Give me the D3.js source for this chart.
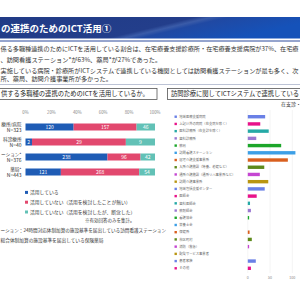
<!DOCTYPE html>
<html>
<head>
<meta charset="utf-8">
<script src="https://cdn.jsdelivr.net/npm/d3@7"></script>
<style>
  html, body { margin: 0; padding: 0; background: #fff; }
  svg { display: block; font-family: "Noto Sans CJK JP", "Noto Sans", sans-serif; }
</style>
</head>
<body>
<div id="chart"></div>
<script>
// Left chart: ICT use by facility type (counts)
const leftCategories = ["療所/病院", "科診療所", "ーション*", "薬局*"];
const leftN = [323, 40, 376, 443];
const usingICT = [120, 2, 238, 121];
const notConsidered = [157, 29, 96, 268];
const gaveUp = [46, 9, 42, 54];
const seriesNames = ["活用している", "活用していない（活用を検討したことが無い）", "活用していない（活用を検討したが、断念した）"];
const seriesColors = ["#1f5cb5", "#e2486e", "#62c1b6"];
const leftTicks = [0, 0.2, 0.4, 0.6, 0.8, 1];

// Right chart: partners linked by ICT (在支診・在支病)
const partnerLabels = [
  "地域医療支援病院", "上記以外の病院（在支病を除く）", "医科診療所（在支診を除く）", "歯科診療所", "薬局",
  "訪問看護ステーション", "居宅介護支援事業所", "入所介護施設（特養、老健など）", "通所介護施設（通所リハ事業所など）",
  "訪問介護事業所", "地域包括支援センター", "医師会", "歯科医師会", "薬剤師会", "看護協会", "栄養士会",
  "保健所", "市区町村", "消防（救急）", "配食サービス事業者", "患者家族", "その他"
];
const partnerValues = [39, 28, 47, 19, 75, 107, 90, 37, 27, 46, 38, 20, 5, 7, 3, 0, 4, 9, 3, 0, 18, 7];
const partnerColors = ["#6a80e6", "#e8128a", "#25a9a6", "#9b78d2", "#1ca62a", "#3d9fe6", "#d95f1e", "#5d8a1c", "#c546d2", "#b99510"];
const rightTicks = [0, 50, 100];

const textLines = [
  { y: 51, t: "係る多職種連携のためにICTを活用している割合は、在宅療養支援診療所・在宅療養支援病院が37%、在宅療", fit: 298 },
  { y: 62, t: "、訪問看護ステーション*が63%、薬局*が27%であった。" },
  { y: 72.5, t: "実施している病院・診療所がICTシステムで連携している機関としては訪問看護ステーションが最も多く、次", fit: 298 },
  { y: 81, t: "所、薬局、訪問介護事業所が多かった。" }
];

const W = 300, H = 300;
const svg = d3.select("#chart").append("svg").attr("width", W).attr("height", H);

// Title bar
const defs = svg.append("defs");
const grad = defs.append("linearGradient").attr("id", "tg").attr("x1", "0").attr("x2", "1").attr("y1", "0").attr("y2", "0.3");
[[0, "#213b86"], [0.6, "#233e8b"], [0.65, "#3a5ba8"], [0.7, "#2049a3"], [1, "#1552b9"]]
  .forEach(([o, c]) => grad.append("stop").attr("offset", o).attr("stop-color", c));
svg.append("rect").attr("x", 0).attr("y", 17).attr("width", W).attr("height", 21.5).attr("fill", "url(#tg)");
svg.append("line").attr("x1", 0).attr("x2", W).attr("y1", 41).attr("y2", 41).attr("stroke", "#2c4b9c").attr("stroke-width", 1);
svg.append("text").attr("x", 1).attr("y", 31.5)
  .attr("fill", "#fff").attr("font-size", 9.5).attr("font-weight", "bold")
  .text("の連携のためのICT活用①");

// Body text
svg.append("g").selectAll("text").data(textLines).join("text")
  .attr("x", 0.5).attr("y", d => d.y).attr("font-size", 6.2).attr("fill", "#333")
  .each(function (d) { if (d.fit) d3.select(this).attr("textLength", d.fit).attr("lengthAdjust", "spacingAndGlyphs"); })
  .text(d => d.t);
svg.append("line").attr("x1", 0).attr("x2", W).attr("y1", 84.5).attr("y2", 84.5).attr("stroke", "#8f9bb8").attr("stroke-width", 0.6);

// Panel headers
svg.append("rect").attr("x", -2).attr("y", 88.5).attr("width", 159).attr("height", 11)
  .attr("fill", "#fff").attr("stroke", "#555").attr("stroke-width", 0.8);
svg.append("text").attr("x", 1).attr("y", 96.3).attr("font-size", 6.3).attr("fill", "#222")
  .text("供する多職種の連携のためのICTを活用しているか。");
svg.append("rect").attr("x", 167.5).attr("y", 88.5).attr("width", 140).attr("height", 11)
  .attr("fill", "#fff").attr("stroke", "#555").attr("stroke-width", 0.8);
svg.append("text").attr("x", 171).attr("y", 96.3).attr("font-size", 6.3).attr("fill", "#222")
  .attr("textLength", 128).attr("lengthAdjust", "spacingAndGlyphs")
  .text("訪問診療に関してICTシステムで連携している");
svg.append("text").attr("x", 281).attr("y", 106).attr("font-size", 5).attr("fill", "#333").text("在支診・");

// ---- Left stacked 100% bar chart ----
const xL = d3.scaleLinear().domain([0, 1]).range([25.5, 155]);
const yL = d3.scaleBand().domain(leftCategories).range([119.5, 179.5]);
const barH = 7;

svg.append("g").selectAll("text").data(leftTicks).join("text")
  .attr("x", d => xL(d)).attr("y", 113.5).attr("text-anchor", "middle")
  .attr("font-size", 4.3).attr("fill", "#888").text(d => Math.round(d * 100) + "%");

const rows = leftCategories.map((c, i) => {
  const vals = [usingICT[i], notConsidered[i], gaveUp[i]];
  const tot = d3.sum(vals);
  let acc = 0;
  return vals.map((v, k) => { const s = { cat: c, v, k, x0: acc / tot, x1: (acc + v) / tot }; acc += v; return s; });
}).flat();

const segs = svg.append("g").selectAll("g").data(rows).join("g");
segs.append("rect")
  .attr("x", d => xL(d.x0)).attr("width", d => xL(d.x1) - xL(d.x0))
  .attr("y", d => yL(d.cat) + yL.bandwidth() / 2 - barH / 2).attr("height", barH)
  .attr("fill", d => seriesColors[d.k]);
segs.append("text")
  .attr("x", d => (xL(d.x0) + xL(d.x1)) / 2).attr("y", d => yL(d.cat) + yL.bandwidth() / 2 + 1.8)
  .attr("text-anchor", "middle").attr("font-size", 5).attr("fill", "#fff").text(d => d.v);

const lab = svg.append("g").selectAll("g").data(leftCategories).join("g");
lab.append("text").attr("x", 21.5).attr("y", d => yL(d) + yL.bandwidth() / 2 - 1.2)
  .attr("text-anchor", "end").attr("font-size", 4.6).attr("fill", "#333").text(d => d);
lab.append("text").attr("x", 21.5).attr("y", (d, i) => yL(d) + yL.bandwidth() / 2 + 5.4)
  .attr("text-anchor", "end").attr("font-size", 5).attr("fill", "#333").text((d, i) => "N=" + leftN[i]);

// Legend
const leg = svg.append("g").selectAll("g").data(seriesNames).join("g")
  .attr("transform", (d, i) => `translate(25,${192.5 + i * 9.8})`);
leg.append("rect").attr("x", 0).attr("y", -1.6).attr("width", 3).attr("height", 3).attr("fill", (d, i) => seriesColors[i]);
leg.append("text").attr("x", 5).attr("y", 1.8).attr("font-size", 4.8).attr("fill", "#333").text(d => d);
svg.append("text").attr("x", 85).attr("y", 222.3).attr("font-size", 4.5).attr("fill", "#333").text("※有効回答のみを集計。");

// Footnotes
svg.append("text").attr("x", 0.5).attr("y", 231.5).attr("font-size", 4.6).attr("fill", "#333")
  .text("ーション：24時間対応体制加算の施設基準を届出している訪問看護ステーション");
svg.append("text").attr("x", 0.5).attr("y", 241.5).attr("font-size", 4.7).attr("fill", "#333")
  .text("総合体制加算の施設基準を届出している保険薬局");

// ---- Right horizontal bar chart ----
const xR = d3.scaleLinear().domain([0, 100]).range([247.8, 292.3]);
const yR = d3.scaleBand().domain(partnerLabels).range([113.1, 271.9]);
const rBarH = 3.4;

svg.append("g").selectAll("line").data(rightTicks).join("line")
  .attr("x1", d => xR(d)).attr("x2", d => xR(d)).attr("y1", 110).attr("y2", 273)
  .attr("stroke", "#ececec").attr("stroke-width", 0.6);
svg.append("g").selectAll("text").data(rightTicks).join("text")
  .attr("x", d => xR(d)).attr("y", 278.5).attr("text-anchor", "middle")
  .attr("font-size", 3.6).attr("fill", "#888").text(d => d);

const pr = svg.append("g").selectAll("g").data(partnerLabels).join("g");
pr.append("rect").attr("x", 174.5).attr("y", d => yR(d) + yR.bandwidth() / 2 - 1.2)
  .attr("width", 2.4).attr("height", 2.4).attr("fill", (d, i) => partnerColors[i % 10]);
pr.append("text").attr("x", 179.3).attr("y", d => yR(d) + yR.bandwidth() / 2 + 1.2)
  .attr("font-size", 3.3).attr("fill", "#666").text(d => d);
pr.append("rect").attr("x", xR(0)).attr("y", d => yR(d) + yR.bandwidth() / 2 - rBarH / 2)
  .attr("width", (d, i) => xR(partnerValues[i]) - xR(0)).attr("height", rBarH)
  .attr("fill", (d, i) => partnerColors[i % 10]);
</script>
</body>
</html>
